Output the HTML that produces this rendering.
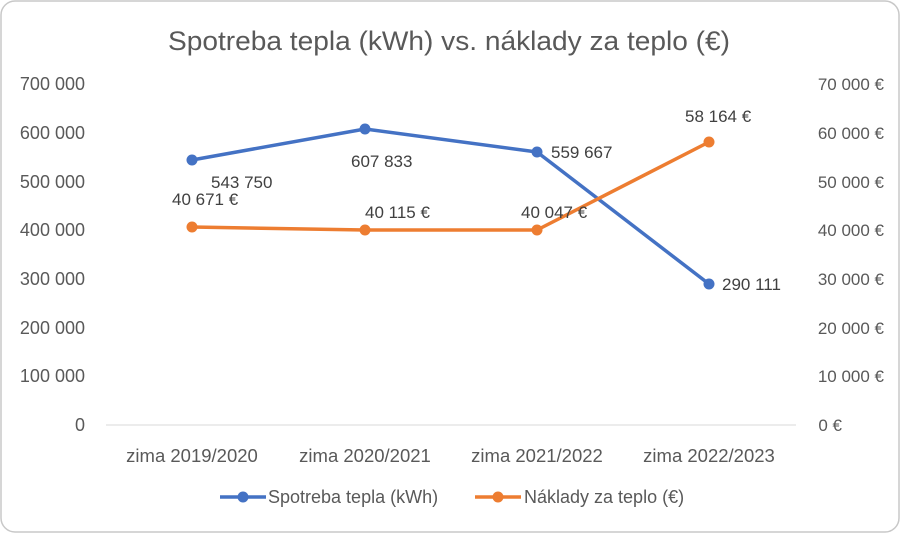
<!DOCTYPE html>
<html><head><meta charset="utf-8"><style>
body{margin:0;background:#fff;}
svg{display:block;font-family:"Liberation Sans",sans-serif;}
</style></head><body>
<svg width="900" height="533" viewBox="0 0 900 533">
<rect x="1" y="1" width="898" height="531" rx="14" fill="#fff" stroke="#c8c8c8" stroke-width="1.5"/>
<text x="449" y="50" text-anchor="middle" font-size="27" fill="#595959" textLength="562" lengthAdjust="spacingAndGlyphs">Spotreba tepla (kWh) vs. náklady za teplo (€)</text>
<g font-size="18" fill="#595959" text-anchor="end">
<text x="85" y="431">0</text>
<text x="85" y="382">100 000</text>
<text x="85" y="334">200 000</text>
<text x="85" y="285">300 000</text>
<text x="85" y="236">400 000</text>
<text x="85" y="188">500 000</text>
<text x="85" y="139">600 000</text>
<text x="85" y="90">700 000</text>
</g>
<g font-size="17" fill="#595959" text-anchor="end">
<text x="842" y="431">0 €</text>
<text x="884" y="382">10 000 €</text>
<text x="884" y="334">20 000 €</text>
<text x="884" y="285">30 000 €</text>
<text x="884" y="236">40 000 €</text>
<text x="884" y="188">50 000 €</text>
<text x="884" y="139">60 000 €</text>
<text x="884" y="90">70 000 €</text>
</g>
<line x1="106" y1="425" x2="796" y2="425" stroke="#d9d9d9" stroke-width="1"/>
<g font-size="18.5" fill="#595959" text-anchor="middle">
<text x="192" y="462">zima 2019/2020</text>
<text x="365" y="462">zima 2020/2021</text>
<text x="537" y="462">zima 2021/2022</text>
<text x="709" y="462">zima 2022/2023</text>
</g>
<polyline points="192,160 365,129 537,152 709,284" fill="none" stroke="#4472c4" stroke-width="3.5" stroke-linejoin="round"/>
<g fill="#4472c4"><circle cx="192" cy="160" r="5.5"/><circle cx="365" cy="129" r="5.5"/><circle cx="537" cy="152" r="5.5"/><circle cx="709" cy="284" r="5.5"/></g>
<polyline points="192,227 365,230 537,230 709,142" fill="none" stroke="#ed7d31" stroke-width="3.5" stroke-linejoin="round"/>
<g fill="#ed7d31"><circle cx="192" cy="227" r="5.5"/><circle cx="365" cy="230" r="5.5"/><circle cx="537" cy="230" r="5.5"/><circle cx="709" cy="142" r="5.5"/></g>
<g font-size="17" fill="#404040">
<text x="211" y="188">543 750</text>
<text x="351" y="167">607 833</text>
<text x="551" y="158">559 667</text>
<text x="722" y="290">290 111</text>
<text x="172" y="205">40 671 €</text>
<text x="365" y="218">40 115 €</text>
<text x="521" y="218">40 047 €</text>
<text x="685" y="122">58 164 €</text>
</g>
<line x1="220" y1="497" x2="266" y2="497" stroke="#4472c4" stroke-width="3.5"/>
<circle cx="243" cy="497" r="5.5" fill="#4472c4"/>
<text x="268" y="503" font-size="18" fill="#595959">Spotreba tepla (kWh)</text>
<line x1="475" y1="497" x2="521" y2="497" stroke="#ed7d31" stroke-width="3.5"/>
<circle cx="498" cy="497" r="5.5" fill="#ed7d31"/>
<text x="524" y="503" font-size="18" fill="#595959">Náklady za teplo (€)</text>
</svg>
</body></html>
